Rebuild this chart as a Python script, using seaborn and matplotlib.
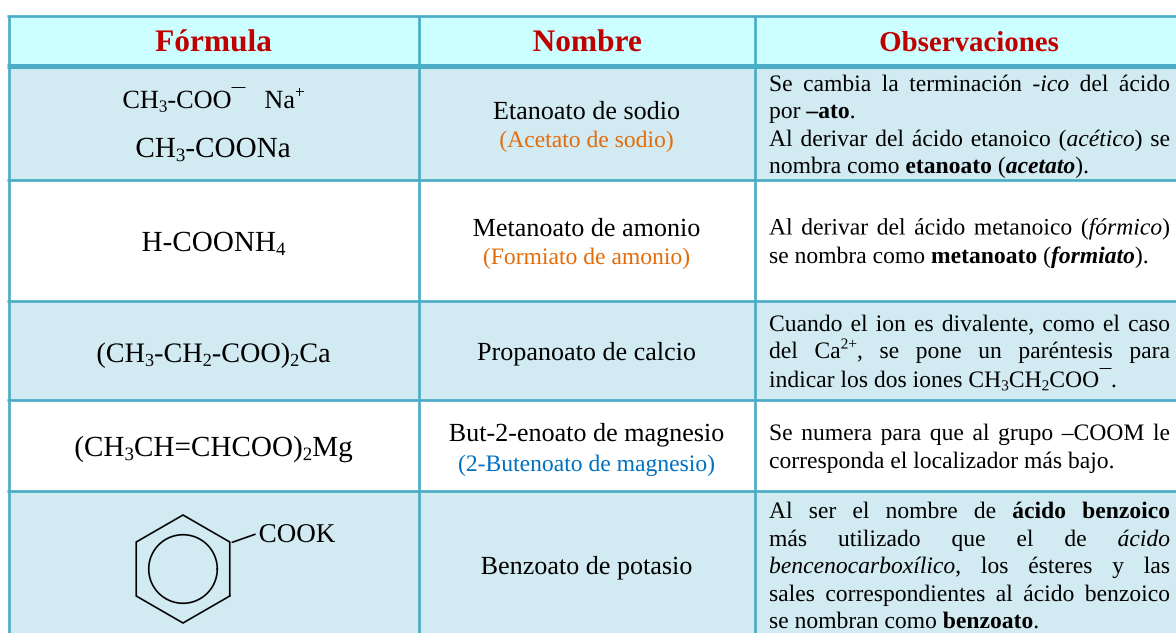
import re
import numpy as np
import pandas as pd
import seaborn as sns
import matplotlib
matplotlib.use("Agg")
import matplotlib.pyplot as plt
import matplotlib.patheffects as pe
from matplotlib.colors import ListedColormap
from matplotlib.font_manager import FontProperties, findfont
from matplotlib.ft2font import FT2Font, LoadFlags

# ---------- content ----------
headers = ["Fórmula", "Nombre", "Observaciones"]
formulas = [
    ["CH<sub>3</sub>-COO<bar>—</bar>   Na<sup>+</sup>", "CH<sub>3</sub>-COONa"],
    ["H-COONH<sub>4</sub>"],
    ["(CH<sub>3</sub>-CH<sub>2</sub>-COO)<sub>2</sub>Ca"],
    ["(CH<sub>3</sub>CH=CHCOO)<sub>2</sub>Mg"],
    ["COOK"],
]
names = ["Etanoato de sodio", "Metanoato de amonio", "Propanoato de calcio",
         "But-2-enoato de magnesio", "Benzoato de potasio"]
alt_names = ["(Acetato de sodio)", "(Formiato de amonio)", "", "(2-Butenoato de magnesio)", ""]
notes = [
    ["Se cambia la terminación <i>-ico</i> del ácido",
     "por <b>–ato</b>.",
     "Al derivar del ácido etanoico (<i>acético</i>) se",
     "nombra como <b>etanoato</b> (<bi>acetato</bi>)."],
    ["Al derivar del ácido metanoico (<i>fórmico</i>)",
     "se nombra como <b>metanoato</b> (<bi>formiato</bi>)."],
    ["Cuando el ion es divalente, como el caso",
     "del Ca<sup>2+</sup>, se pone un paréntesis para",
     "indicar los dos iones CH<sub>3</sub>CH<sub>2</sub>COO<bar>—</bar>."],
    ["Se numera para que al grupo –COOM le",
     "corresponda el localizador más bajo."],
    ["Al ser el nombre de <b>ácido benzoico</b>",
     "más utilizado que el de <i>ácido</i>",
     "<i>bencenocarboxílico</i>, los ésteres y las",
     "sales correspondientes al ácido benzoico",
     "se nombran como <b>benzoato</b>."],
]

# ---------- layout (pixels of the 1176x633 picture) ----------
W, H = 1176, 633
row_kind = [0, 1, 2, 0, 2, 0, 2]            # white, header, tinted
row_px = [16, 49, 115, 121, 99, 91, 142]
h_lines = [(16.3, 2.7), (65.8, 5.0), (180.4, 2.7), (301.3, 2.7), (400.3, 2.7), (491.3, 2.7)]
v_lines = [8.7, 418.7, 754.7]
header_x = [213.5, 587.5, 969]
header_base = 51
header_pt = [22.6, 22.6, 20.8]
formula_base = [[108, 157], [251], [362], [456], [542]]
formula_pt = [[18.9, 21], [21], [20.3], [21], [19.5]]
formula_x = [[213.5, 213], [213.5], [213.5], [213.5], [297]]
name_x = 586.5
name_base = [119, 236, 360, 441, 574]
alt_base = [147, 264, None, 471, None]
note_left, note_right = 769, 1170
note_base = [[91, 118, 146, 173], [234.5, 263], [331, 358, 387], [440, 468], [518, 546, 573, 601, 628]]
note_just = [[1, 0, 1, 0], [1, 0], [1, 1, 0], [1, 0], [1, 1, 1, 1, 0]]
LINE = "#4BACC6"

sns.set_theme(style="white")
plt.rcParams["font.family"] = ["Liberation Serif", "DejaVu Serif"]

fig = plt.figure(figsize=(W / 100, H / 100), dpi=100, facecolor="white")
hm = fig.add_axes([8.7 / W, 0, 1 - 8.7 / W, 1])
kinds = pd.DataFrame(np.repeat(row_kind, row_px).reshape(-1, 1))
sns.heatmap(kinds, ax=hm, cmap=ListedColormap(["#FFFFFF", "#CCFFFF", "#D2EAF1"]), vmin=0, vmax=2,
            cbar=False, xticklabels=False, yticklabels=False)

ov = fig.add_axes([0, 0, 1, 1])
ov.set_xlim(0, W)
ov.set_ylim(H, 0)
ov.axis("off")
ov.patch.set_alpha(0)

PX = 0.72
for y, lw in h_lines:
    ov.plot([7.4, W], [y, y], color=LINE, lw=lw * PX, solid_capstyle="butt")
for x in v_lines:
    ov.plot([x, x], [15, H], color=LINE, lw=2.7 * PX, solid_capstyle="butt")


def font_props(style):
    bold = style in ("b", "bi")
    ital = style in ("i", "bi")
    return FontProperties(family="Liberation Serif", weight="bold" if bold else "normal",
                          style="italic" if ital else "normal")


_cache = {}


def advance(s, style, px):
    fp = findfont(font_props(style))
    f = _cache.setdefault(fp, FT2Font(fp))
    f.set_size(100, 72)
    tot = 0.0
    for ch in s:
        tot += f.load_char(ord(ch), flags=LoadFlags.NO_HINTING).linearHoriAdvance / 65536
    return tot / 100 * px


SCALE = {"sub": .65, "sup": .65, "bar": .5}
SHIFT = {"sub": -.14, "sup": .40, "bar": .68}
FACE = ("b", "i", "bi")


def parse(s):
    """Returns a list of words, each a list of (text, style)."""
    words, cur, style = [], [], ""
    for part in re.split(r"(</?(?:b|i|bi|sub|sup|bar)>)", s):
        m = re.fullmatch(r"<(/?)(\w+)>", part)
        if m:
            style = "" if m.group(1) else m.group(2)
            continue
        pieces = part.split(" ")
        for k, p in enumerate(pieces):
            if k > 0:
                words.append(cur)
                cur = []
            if p:
                cur.append((p, style))
    words.append(cur)
    return words


def word_w(word, px, style):
    return sum(advance(t, st if st in FACE else style, px * SCALE.get(st, 1)) for t, st in word)


def draw_line(s, y, pt, x=None, left=None, right=None, color="black", style=""):
    px = pt * 100 / 72
    words = parse(s)
    widths = [word_w(w, px, style) if w else 0.0 for w in words]
    gap = 0.25 * px
    if left is not None and right is not None:
        gap = (right - left - sum(widths)) / (len(words) - 1)
        cx = left
    elif left is not None:
        cx = left
    else:
        cx = x - (sum(widths) + gap * (len(words) - 1)) / 2
    for w, wd in zip(words, widths):
        for t, st in w:
            base = st if st in FACE else style
            size = px * SCALE.get(st, 1)
            effects = [pe.Normal()]
            if st == "bar":
                effects = [pe.Stroke(linewidth=0.7, foreground=color), pe.Normal()]
            ov.text(cx, y - px * SHIFT.get(st, 0), t, fontsize=size * .72, color=color,
                    family="Liberation Serif",
                    weight="bold" if base in ("b", "bi") else "normal",
                    style="italic" if base in ("i", "bi") else "normal",
                    ha="left", va="baseline", path_effects=effects)
            cx += advance(t, base, size)
        cx += gap


for label, cx, pt in zip(headers, header_x, header_pt):
    draw_line(label, header_base, pt, x=cx, color="#C00000", style="b")

for lines, bases, pts, xs in zip(formulas, formula_base, formula_pt, formula_x):
    for s, y, pt, x in zip(lines, bases, pts, xs):
        draw_line(s, y, pt, x=x)

alt_colors = ["#E36C0A", "#E36C0A", "#E36C0A", "#0070C0", "#0070C0"]
for nm, alt, y, ya, col in zip(names, alt_names, name_base, alt_base, alt_colors):
    draw_line(nm, y, 18.8, x=name_x)
    if alt:
        draw_line(alt, ya, 17, x=name_x, color=col)

for lines, bases, just in zip(notes, note_base, note_just):
    for s, y, j in zip(lines, bases, just):
        draw_line(s, y, 17, left=note_left, right=note_right if j else None)

# benzene ring of the last formula
ring_x, ring_y, ring_r, inner_r = 183, 569, 54, 34.3
ang = np.deg2rad(np.arange(30, 391, 60))
ov.plot(ring_x + ring_r * np.cos(ang), ring_y + ring_r * np.sin(ang), color="black", lw=1.2,
        solid_joinstyle="miter", clip_on=False)
t = np.linspace(0, 2 * np.pi, 200)
ov.plot(ring_x + inner_r * np.cos(t), ring_y + inner_r * np.sin(t), color="black", lw=1.2)
ov.plot([232.3, 255], [542.3, 534.3], color="black", lw=1.2)

fig.savefig("out.png", dpi=100)
